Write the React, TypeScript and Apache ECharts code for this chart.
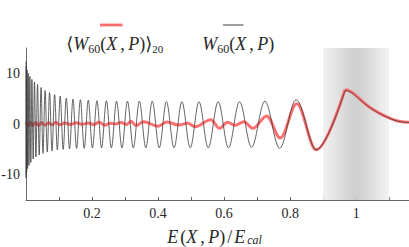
import { useEffect, useRef } from 'react';
import * as echarts from 'echarts';

// W60(X,P): extrema positions (E/Ecal) and values
const wU = [
  0,
  0.0003, 0.0009, 0.0018, 0.0031, 0.0047, 0.0066, 0.0089, 0.0116, 0.0146, 0.0179,
  0.0217, 0.0257, 0.03, 0.0349, 0.04, 0.0456, 0.0514, 0.0578, 0.0643, 0.0714,
  0.0788, 0.0866, 0.0949, 0.1035, 0.1126, 0.122, 0.1319, 0.1423, 0.1532, 0.1646,
  0.1763, 0.1886, 0.2011, 0.2149, 0.2289, 0.2434, 0.2585, 0.2743, 0.2906, 0.3073,
  0.325, 0.3434, 0.3629, 0.3824, 0.4035, 0.4253, 0.4483, 0.472, 0.4974, 0.5239,
  0.5519, 0.582, 0.6132, 0.6467, 0.683, 0.7235, 0.768, 0.818, 0.879, 0.966,
];
const wV = [
  12.3,
  -10.6, 11.4, -9.6, 10.7, -8.8, 10.0, -8.2, 9.4, -7.6, 8.8,
  -6.9, 8.3, -6.5, 7.8, -6.1, 7.2, -5.8, 6.6, -5.5, 6.2,
  -5.3, 5.8, -5.1, 5.5, -5.0, 5.1, -4.9, 4.9, -4.8, 4.8,
  -4.8, 4.7, -4.7, 4.6, -4.7, 4.6, -4.7, 4.5, -4.7, 4.5,
  -4.7, 4.5, -4.7, 4.5, -4.7, 4.4, -4.7, 4.4, -4.7, 4.4,
  -4.7, 4.4, -4.7, 4.4, -4.6, 4.5, -4.8, 4.8, -5.1, 6.6,
];
// tail beyond the last maximum
const tailU = [0.966, 0.976, 0.99, 1.01, 1.04, 1.07, 1.1, 1.13, 1.16];
const wTailV = [6.6, 6.5, 6.0, 4.9, 3.3, 2.1, 1.15, 0.5, 0.3];

// <W60(X,P)>_20 : extrema
const avgU = [
  0, 0.006, 0.013, 0.021, 0.029, 0.038, 0.047, 0.057, 0.068, 0.079,
  0.09, 0.102, 0.118, 0.135, 0.152, 0.17, 0.188, 0.205, 0.222, 0.238,
  0.255, 0.272, 0.288, 0.305, 0.318, 0.333, 0.356, 0.4, 0.426, 0.462,
  0.49, 0.512, 0.56, 0.586, 0.61, 0.633, 0.66, 0.687, 0.729, 0.77,
  0.82, 0.879, 0.966,
];
const avgV = [
  0.4, -0.3, 0.3, -0.35, 0.3, -0.3, 0.3, -0.25, 0.25, -0.15,
  0.35, -0.15, 0.2, -0.1, 0.25, -0.05, 0.2, -0.1, 0.35, -0.25,
  0.15, 0.0, 0.3, -0.1, 0.55, -0.3, 0.45, -0.45, 0.4, -0.2,
  0.15, -0.55, 0.85, -0.85, 0.35, -0.25, 0.45, -0.85, 1.6, -2.75,
  4.0, -5.1, 6.75,
];
const avgTailV = [6.75, 6.65, 6.15, 5.0, 3.35, 2.15, 1.2, 0.55, 0.35];

const xTicks = [0.1, 0.2, 0.3, 0.4, 0.5, 0.6, 0.7, 0.8, 0.9, 1.0, 1.1];
const xLabels = [0.2, 0.4, 0.6, 0.8, 1];
const yLabels = [-10, 0, 10];
const band = [0.9, 1.0, 1.1];

const RED = '#ff6f6f';
const DARK = '#3c3c3c';
const TXT = '#262626';
const SERIF = 'Liberation Serif';

const zip = (u: number[], v: number[]) => u.map((x, i) => [x, v[i]]);

const hgrad = (c0: string, c1: string) => ({
  type: 'linear', x: 0, y: 0, x2: 1, y2: 0,
  colorStops: [
    { offset: 0, color: c0 },
    { offset: 1, color: c1 },
  ],
});

export default function App() {
  const ref = useRef<HTMLDivElement>(null);
  useEffect(() => {
    if (!ref.current) return;
    const chart = echarts.init(ref.current, null, { renderer: 'svg' });
    const rich = (key: 'fill' | 'color', lh: number, subLh: number) => ({
      i: { fontFamily: SERIF, fontStyle: 'italic', fontSize: 18, lineHeight: lh, [key]: TXT },
      iE: { fontFamily: SERIF, fontStyle: 'italic', fontSize: 18, lineHeight: lh, padding: [0, 2, 0, 0], [key]: TXT },
      iX: { fontFamily: SERIF, fontStyle: 'italic', fontSize: 18, lineHeight: lh, padding: [0, 3, 0, 0], [key]: TXT },
      n: { fontFamily: SERIF, fontSize: 18, lineHeight: lh, [key]: TXT },
      sl: { fontFamily: SERIF, fontSize: 18, lineHeight: lh, padding: [0, 2, 0, 2], [key]: TXT },
      s: { fontFamily: SERIF, fontSize: 12, lineHeight: subLh, verticalAlign: 'bottom', [key]: TXT },
      si: { fontFamily: SERIF, fontStyle: 'italic', fontSize: 12, lineHeight: subLh, verticalAlign: 'bottom', [key]: TXT },
      s2: { fontFamily: SERIF, fontSize: 11, lineHeight: 11, verticalAlign: 'bottom', [key]: TXT },
      b: { fontFamily: 'DejaVu Sans', fontSize: 18, lineHeight: lh, [key]: TXT },
    });
    const option: any = {
      animation: false,
      grid: { left: 26, right: 0, top: 48, bottom: 47, containLabel: false, outerBoundsMode: 'none' },
      xAxis: {
        type: 'value',
        min: 0,
        max: 1.16,
        axisLine: { onZero: false, lineStyle: { color: '#666', width: 1 } },
        axisTick: { inside: true, length: 3, customValues: xTicks, lineStyle: { color: '#666' } },
        axisLabel: {
          customValues: xLabels,
          formatter: (v: number) => String(Number(v.toFixed(1))),
          fontFamily: SERIF,
          fontSize: 14,
          color: TXT,
          margin: 6,
        },
        splitLine: { show: false },
        name: '{iE|E}{n|(}{iX|X}{n|,\u2009}{i|P}{n|)}{sl|/}{iE|E}{si|cal}',
        nameLocation: 'middle',
        nameGap: 27,
        nameTextStyle: { rich: rich('color', 19, 12), padding: [0, 6, 0, 0] },
      },
      yAxis: {
        type: 'value',
        min: -15,
        max: 15,
        axisLine: { show: true, onZero: false, lineStyle: { color: '#666', width: 1 } },
        axisTick: { show: false },
        axisLabel: {
          customValues: yLabels,
          fontFamily: SERIF,
          fontSize: 14,
          color: TXT,
          margin: 6,
        },
        splitLine: { show: false },
      },
      series: [
        {
          type: 'line',
          data: zip(avgU, avgV),
          smooth: 0.35,
          smoothMonotone: 'x',
          showSymbol: false,
          lineStyle: { color: RED, width: 3 },
          silent: true,
          markArea: {
            silent: true,
            data: [
              [{ xAxis: band[0], itemStyle: { color: hgrad('#f1f1f1', '#cdcdcd') } }, { xAxis: band[1] }],
              [{ xAxis: band[1], itemStyle: { color: hgrad('#cdcdcd', '#f3f3f3') } }, { xAxis: band[2] }],
            ],
          },
        },
        {
          type: 'line',
          data: zip(tailU, avgTailV),
          smooth: 0.4,
          showSymbol: false,
          lineStyle: { color: RED, width: 3 },
          silent: true,
        },
        {
          type: 'line',
          data: zip(wU, wV),
          smooth: 0.35,
          smoothMonotone: 'x',
          showSymbol: false,
          lineStyle: { color: DARK, width: 0.8 },
          silent: true,
        },
        {
          type: 'line',
          data: zip(tailU, wTailV),
          smooth: 0.4,
          showSymbol: false,
          lineStyle: { color: DARK, width: 0.8 },
          silent: true,
        },
      ],
      graphic: [
        { type: 'line', shape: { x1: 100, y1: 25, x2: 122.5, y2: 25 }, style: { stroke: RED, lineWidth: 2.8 } },
        { type: 'line', shape: { x1: 223, y1: 25, x2: 243.5, y2: 25 }, style: { stroke: DARK, lineWidth: 1 } },
        {
          type: 'text', x: 114.7, y: 43.5,
          style: {
            text: '{b|⟨}{i|W}{s|60}{n|(}{iX|X}{n|,\u2009}{i|P}{n|)}{b|⟩}{s2|20}',
            align: 'center', verticalAlign: 'middle',
            rich: rich('fill', 22, 15),
          },
        },
        {
          type: 'text', x: 238.3, y: 43.5,
          style: {
            text: '{i|W}{s|60}{n|(}{iX|X}{n|,\u2009}{i|P}{n|)}',
            align: 'center', verticalAlign: 'middle',
            rich: rich('fill', 22, 15),
          },
        },
      ],
    };
    chart.setOption(option);
    return () => chart.dispose();
  }, []);
  return (
    <div
      ref={ref}
      style={{ position: 'fixed', left: 0, top: 0, width: 409, height: 247, background: '#fff' }}
    />
  );
}
